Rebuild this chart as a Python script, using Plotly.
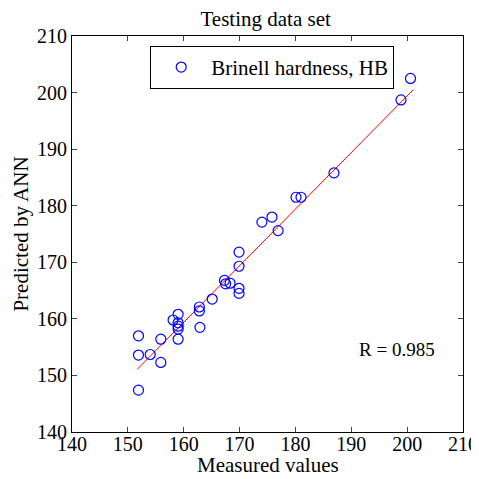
import plotly.graph_objects as go

measured = [200.6, 198.9, 186.9, 180.1, 181.0, 174.0, 175.8, 176.9,
            169.9, 169.9, 169.9, 169.9, 167.3, 167.5, 168.3, 165.1,
            162.8, 162.8, 162.9, 159.0, 158.1, 159.0, 159.0, 159.0, 159.0,
            151.9, 155.9, 151.9, 154.0, 155.9, 151.9]
predicted = [202.5, 198.7, 185.8, 181.5, 181.5, 177.1, 178.0, 175.6,
             171.8, 169.3, 165.4, 164.5, 166.8, 166.2, 166.3, 163.5,
             162.1, 161.4, 158.5, 160.8, 159.8, 159.3, 158.7, 158.2, 156.4,
             157.0, 156.4, 153.6, 153.7, 152.3, 147.4]
fit_x = [151.7, 201.1]
fit_y = [151.1, 200.5]
ticks = [140, 150, 160, 170, 180, 190, 200, 210]

font = "Liberation Serif"

fig = go.Figure()
fig.add_trace(go.Scatter(x=fit_x, y=fit_y, mode="lines",
                         line=dict(color="red", width=1), showlegend=False))
fig.add_trace(go.Scatter(x=measured, y=predicted, mode="markers",
                         name="Brinell hardness, HB",
                         marker=dict(symbol="circle-open", size=10,
                                     color="#0000ff", line=dict(width=1.2))))

axis_common = dict(range=[140, 210], tickvals=ticks, ticks="inside", ticklen=5,
                   showline=True, linecolor="black", linewidth=1, mirror="ticks",
                   showgrid=False, zeroline=False, automargin=False,
                   tickfont=dict(family=font, size=20, color="black"))
fig.update_xaxes(**axis_common, ticklabelstandoff=-6)
fig.update_yaxes(**axis_common,
                 title=dict(text="Predicted by ANN", font=dict(family=font, size=21, color="black"),
                            standoff=2))

fig.add_annotation(x=0.5, y=0, xref="paper", yref="paper", xanchor="center", yanchor="top",
                   yshift=-19, text="Measured values", showarrow=False,
                   font=dict(family=font, size=21, color="black"))
fig.add_annotation(x=198.1, y=154.5, text="R = 0.985", showarrow=False,
                   font=dict(family=font, size=19, color="black"))

fig.update_layout(
    width=471, height=471,
    margin=dict(l=64, r=16, t=28, b=47),
    paper_bgcolor="white", plot_bgcolor="white",
    title=dict(text="Testing data set", x=0.547, xanchor="center", y=0.977, yanchor="middle",
               font=dict(family=font, size=21, color="black")),
    legend=dict(x=0.2, y=0.975, xanchor="left", yanchor="top",
                bordercolor="black", borderwidth=1, bgcolor="white",
                font=dict(family=font, size=21, color="black"),
                itemwidth=50),
)

fig.write_html("out.html")
